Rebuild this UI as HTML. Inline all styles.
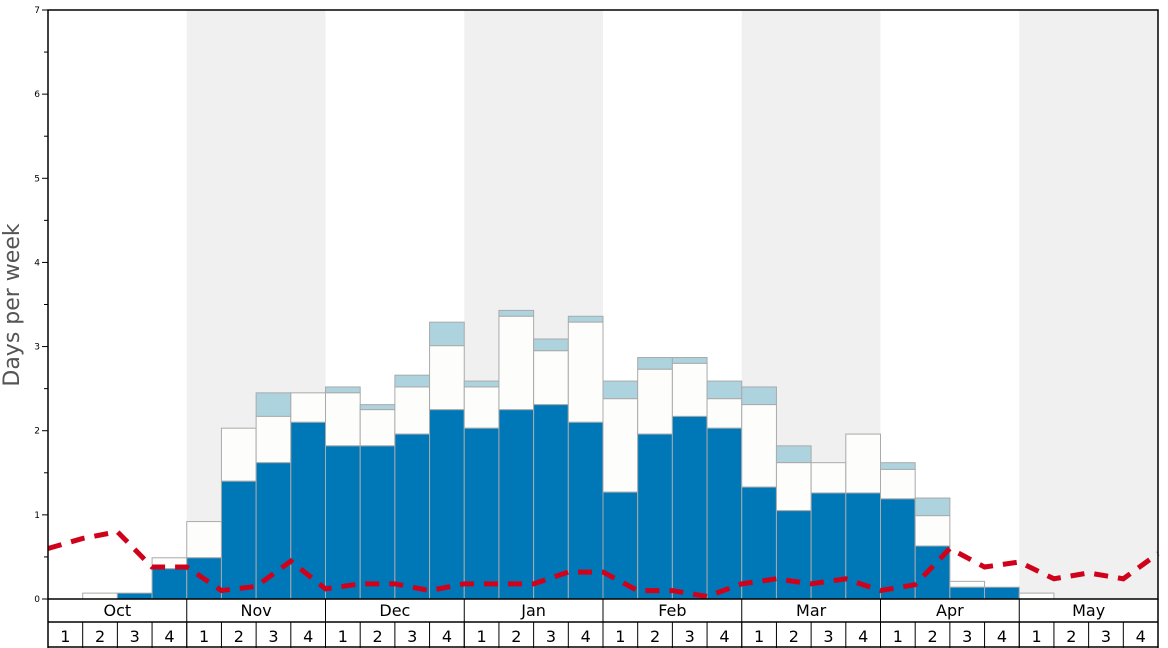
<!DOCTYPE html>
<html><head><meta charset="utf-8"><style>
body{margin:0;background:#fff;font-family:"Liberation Sans","DejaVu Sans",sans-serif}
svg{display:block}
</style></head><body>
<svg id="c" width="1168" height="648" font-family="DejaVu Sans, Liberation Sans, sans-serif"></svg>
<script>
const months=["Oct","Nov","Dec","Jan","Feb","Mar","Apr","May"];
const weekLabels=["1","2","3","4"];
const yTicks=[0,1,2,3,4,5,6,7];
const blueVals=[0,0,0.07,0.36,0.49,1.40,1.62,2.10,1.82,1.82,1.96,2.25,2.03,2.25,2.31,2.10,1.27,1.96,2.17,2.03,1.33,1.05,1.26,1.26,1.19,0.63,0.14,0.14,0,0,0,0];
const whiteVals=[0,0.07,0.07,0.49,0.92,2.03,2.17,2.45,2.45,2.25,2.52,3.01,2.52,3.36,2.95,3.29,2.38,2.73,2.80,2.38,2.31,1.62,1.62,1.96,1.54,0.99,0.21,0.14,0.07,0,0,0];
const lightVals=[0,0.07,0.07,0.49,0.92,2.03,2.45,2.45,2.52,2.31,2.66,3.29,2.59,3.43,3.09,3.36,2.59,2.87,2.87,2.59,2.52,1.82,1.62,1.96,1.62,1.20,0.21,0.14,0.07,0,0,0];
const lineVals=[0.6,0.72,0.8,0.38,0.38,0.1,0.15,0.45,0.12,0.18,0.18,0.1,0.18,0.18,0.18,0.32,0.32,0.1,0.1,0.03,0.18,0.24,0.18,0.24,0.1,0.17,0.6,0.38,0.44,0.24,0.31,0.24,0.54];

const svg=document.getElementById('c');const NS='http://www.w3.org/2000/svg';
const L=48,R=1158,T=10,B=599,N=32,wk=(R-L)/N;
const x=i=>L+i*wk;const y=v=>B-v*(B-T)/7;
function mk(t,a,p){const e=document.createElementNS(NS,t);for(const k in a)e.setAttribute(k,a[k]);(p||svg).appendChild(e);return e;}
// bands
months.forEach((m,i)=>{if(i%2==1){const r=mk('rect',{x:x(i*4),y:T,width:wk*4,height:B-T,fill:'#f0f0f0'});

}});
// bars
for(let i=0;i<N;i++){
 const g=mk('g',{});
 
 
 if(lightVals[i]>whiteVals[i]) mk('rect',{x:x(i),y:y(lightVals[i]),width:wk,height:y(whiteVals[i])-y(lightVals[i]),fill:'#add3df',stroke:'#aaa','stroke-width':1},g);
 if(whiteVals[i]>blueVals[i]) mk('rect',{x:x(i),y:y(whiteVals[i]),width:wk,height:y(blueVals[i])-y(whiteVals[i]),fill:'#fdfdfb',stroke:'#aaa','stroke-width':1},g);
 if(blueVals[i]>0) mk('rect',{x:x(i),y:y(blueVals[i]),width:wk,height:B-y(blueVals[i]),fill:'#0077b6',stroke:'#aaa','stroke-width':1},g);
}
// line
let d='';lineVals.forEach((v,i)=>{d+=(i?'L':'M')+x(i)+','+y(v);});
const pl=mk('path',{d:d,fill:'none',stroke:'#d0021b','stroke-width':5,'stroke-dasharray':'14,10'});


// frame
mk('rect',{x:L,y:T,width:R-L,height:B-T,fill:'none',stroke:'#000','stroke-width':1.5});
// y ticks
yTicks.forEach(v=>{mk('line',{x1:L-6,x2:L,y1:y(v),y2:y(v),stroke:'#000'});
 const t=mk('text',{x:L-8,y:y(v)+3,'font-size':9,'text-anchor':'end'});t.textContent=v;
 
 
 if(v<7)mk('line',{x1:L-4,x2:L,y1:y(v+0.5),y2:y(v+0.5),stroke:'#000'});});
const yt=mk('text',{x:0,y:0,'font-size':22,fill:'#555','text-anchor':'middle',transform:'translate(19,305) rotate(-90)'});yt.textContent='Days per week';


// x axis rows
mk('line',{x1:L,x2:R,y1:622,y2:622,stroke:'#000','stroke-width':1.5});
mk('line',{x1:L,x2:R,y1:647,y2:647,stroke:'#000','stroke-width':1.5});
mk('line',{x1:L,x2:L,y1:B,y2:648,stroke:'#000','stroke-width':1.5});
mk('line',{x1:R,x2:R,y1:B,y2:648,stroke:'#000','stroke-width':1.5});
months.forEach((m,i)=>{mk('line',{x1:x(i*4),x2:x(i*4),y1:B,y2:648,stroke:'#000'});
 const t=mk('text',{x:x(i*4+2),y:616,'font-size':16,'text-anchor':'middle'});t.textContent=m;
 
 
 weekLabels.forEach((w,j)=>{const k=i*4+j;mk('line',{x1:x(k),x2:x(k),y1:622,y2:648,stroke:'#000'});
  const tt=mk('text',{x:x(k)+wk/2,y:642,'font-size':16,'text-anchor':'middle'});tt.textContent=w;
  
  });});
</script>
</body></html>
